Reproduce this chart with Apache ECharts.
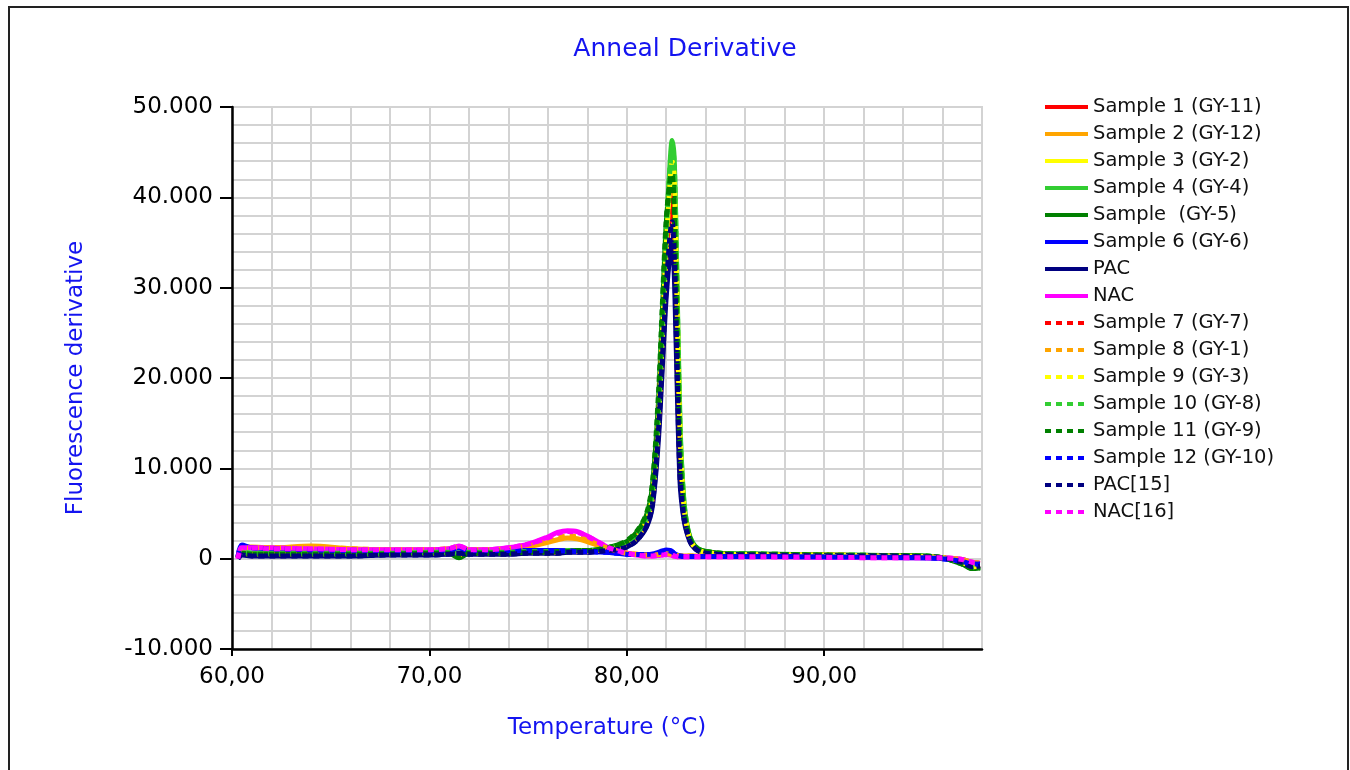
<!DOCTYPE html>
<html>
<head>
<meta charset="utf-8">
<title>Anneal Derivative</title>
<script src="https://cdn.jsdelivr.net/npm/echarts@6/dist/echarts.min.js"></script>
<style>
html, body { margin: 0; padding: 0; background: #fff; }
#chart { width: 1350px; height: 770px; }
</style>
</head>
<body>
<div id="chart"></div>
<script>
// temperature points (°C), denser around the melt peak
const temps = [
    60.3, 60.5, 61, 62, 64, 66, 68, 70, 71, 71.5,
    72, 73, 74, 75, 76, 76.5, 77, 77.5, 78, 78.5,
    79, 79.5, 80, 80.5, 81, 81.3, 81.6, 81.8, 82.0, 82.2,
    82.3, 82.4, 82.5, 82.7, 82.9, 83.1, 83.3, 83.6, 84, 85,
    87, 90, 93, 95, 96, 97, 97.5, 97.9
];

const sample1 = [
    0.1, 0.6, 0.5, 0.5, 0.5, 0.5, 0.5, 0.6, 0.6, 0.3,
    0.6, 0.6, 0.6, 0.7, 0.7, 0.7, 0.8, 0.8, 0.8, 0.9,
    1.0, 1.2, 1.5, 2.3, 4.0, 6.6, 15, 24, 33, 39,
    40, 37, 30, 12, 5.2, 2.8, 1.6, 1.0, 0.7, 0.5,
    0.45, 0.4, 0.3, 0.25, 0.1, -0.4, -0.9, -0.8
];
const sample2 = [
    0.1, 1.3, 1.3, 1.2, 1.4, 1.1, 1.0, 1.0, 1.1, 1.3,
    1.0, 1.0, 1.1, 1.3, 1.8, 2.1, 2.3, 2.2, 1.9, 1.5,
    1.1, 0.8, 0.6, 0.5, 0.4, 0.4, 0.45, 0.5, 0.55, 0.5,
    0.45, 0.4, 0.35, 0.3, 0.3, 0.3, 0.3, 0.3, 0.3, 0.3,
    0.3, 0.25, 0.2, 0.15, 0.1, -0.1, -0.4, -0.5
];
const sample3 = [
    0.1, 0.6, 0.5, 0.5, 0.5, 0.5, 0.5, 0.6, 0.6, 0.5,
    0.6, 0.6, 0.6, 0.7, 0.7, 0.7, 0.8, 0.8, 0.8, 0.9,
    1.0, 1.2, 1.5, 2.4, 4.2, 7.0, 15.5, 25, 35, 43,
    45, 43, 34, 14, 5.8, 3.0, 1.7, 1.0, 0.7, 0.5,
    0.45, 0.4, 0.3, 0.25, 0.1, -0.4, -0.9, -0.8
];
const sample4 = [
    0.1, 0.7, 0.6, 0.6, 0.6, 0.6, 0.6, 0.7, 0.7, 0.6,
    0.7, 0.7, 0.7, 0.8, 0.8, 0.8, 0.9, 0.9, 0.9, 1.0,
    1.2, 1.4, 1.8, 2.8, 4.6, 7.6, 16, 26, 36, 44,
    46.3, 44.5, 36, 15, 6.3, 3.2, 1.9, 1.1, 0.8, 0.55,
    0.5, 0.4, 0.35, 0.3, 0.1, -0.5, -1.0, -0.9
];
const sample5 = [
    0.1, 0.6, 0.5, 0.5, 0.5, 0.5, 0.5, 0.6, 0.6, 0.1,
    0.6, 0.6, 0.6, 0.7, 0.7, 0.8, 0.8, 0.9, 0.9, 1.0,
    1.2, 1.5, 1.9, 2.9, 4.8, 8.0, 17, 27, 37, 42,
    43, 40, 31, 12, 5.5, 3.1, 1.8, 1.1, 0.8, 0.55,
    0.5, 0.4, 0.35, 0.3, 0.1, -0.6, -1.1, -1.0
];
const sample6 = [
    0.2, 1.5, 1.2, 1.1, 1.0, 0.9, 0.9, 0.9, 1.0, 1.2,
    0.9, 0.9, 0.9, 0.9, 0.9, 0.9, 0.85, 0.8, 0.8, 0.75,
    0.7, 0.6, 0.5, 0.45, 0.45, 0.5, 0.7, 0.85, 0.95, 0.9,
    0.8, 0.6, 0.45, 0.3, 0.25, 0.25, 0.25, 0.25, 0.25, 0.25,
    0.25, 0.2, 0.15, 0.1, 0.0, -0.3, -0.6, -0.6
];
const pac = [
    0.0, 0.4, 0.3, 0.3, 0.3, 0.3, 0.4, 0.4, 0.5, 0.6,
    0.5, 0.5, 0.5, 0.6, 0.6, 0.6, 0.7, 0.7, 0.7, 0.8,
    0.9, 1.0, 1.3, 2.0, 3.5, 5.8, 13, 21, 29, 34,
    35, 32, 24, 8.5, 4.3, 2.5, 1.5, 0.9, 0.6, 0.45,
    0.4, 0.3, 0.3, 0.2, 0.1, -0.4, -0.9, -0.8
];
const nac = [
    0.0, 1.3, 1.2, 1.2, 1.1, 1.0, 1.0, 1.0, 1.1, 1.4,
    1.0, 1.0, 1.2, 1.6, 2.4, 2.9, 3.1, 3.0, 2.5, 1.9,
    1.3, 0.9, 0.6, 0.4, 0.3, 0.3, 0.35, 0.4, 0.45, 0.4,
    0.35, 0.3, 0.25, 0.2, 0.2, 0.2, 0.2, 0.2, 0.2, 0.2,
    0.2, 0.15, 0.1, 0.1, 0.1, -0.1, -0.4, -0.5
];
const sample7 = [
    0.1, 0.6, 0.5, 0.5, 0.5, 0.6, 0.5, 0.6, 0.6, 0.4,
    0.6, 0.6, 0.6, 0.7, 0.7, 0.7, 0.8, 0.8, 0.8, 0.9,
    1.0, 1.2, 1.6, 2.4, 4.1, 6.8, 15, 25, 34, 40,
    41, 38.5, 31, 12.5, 5.4, 2.9, 1.7, 1.0, 0.7, 0.5,
    0.45, 0.4, 0.3, 0.25, 0.1, -0.4, -0.9, -0.8
];
const sample8 = [
    0.1, 1.2, 1.2, 1.2, 1.3, 1.1, 1.0, 1.0, 1.1, 1.3,
    1.0, 1.0, 1.1, 1.4, 1.9, 2.3, 2.5, 2.4, 2.0, 1.6,
    1.2, 0.8, 0.6, 0.5, 0.4, 0.4, 0.45, 0.5, 0.55, 0.5,
    0.45, 0.4, 0.35, 0.3, 0.3, 0.3, 0.3, 0.3, 0.3, 0.3,
    0.3, 0.25, 0.2, 0.15, 0.1, -0.1, -0.4, -0.5
];
const sample9 = [
    0.1, 0.6, 0.5, 0.5, 0.5, 0.5, 0.5, 0.6, 0.6, 0.5,
    0.6, 0.6, 0.6, 0.7, 0.7, 0.7, 0.8, 0.8, 0.8, 0.9,
    1.0, 1.2, 1.5, 2.3, 4.1, 6.9, 15, 24.5, 34.5, 42,
    44, 42.5, 34, 14, 5.8, 3.0, 1.7, 1.0, 0.7, 0.5,
    0.45, 0.4, 0.3, 0.25, 0.1, -0.4, -0.9, -0.8
];
const sample10 = [
    0.1, 0.7, 0.6, 0.6, 0.6, 0.6, 0.6, 0.7, 0.7, 0.6,
    0.7, 0.7, 0.7, 0.8, 0.8, 0.8, 0.9, 0.9, 0.9, 1.0,
    1.2, 1.4, 1.8, 2.7, 4.5, 7.4, 16, 26, 36, 43.5,
    45.5, 44, 35.5, 14.5, 6.2, 3.2, 1.9, 1.1, 0.8, 0.55,
    0.5, 0.4, 0.35, 0.3, 0.1, -0.5, -1.0, -0.9
];
const sample11 = [
    0.1, 0.6, 0.5, 0.5, 0.5, 0.5, 0.5, 0.6, 0.6, 0.2,
    0.6, 0.6, 0.6, 0.7, 0.7, 0.8, 0.8, 0.9, 0.9, 1.0,
    1.2, 1.5, 2.0, 3.0, 5.0, 8.4, 18, 28, 37.5, 42,
    42.5, 39, 30, 11.5, 5.3, 3.0, 1.8, 1.1, 0.8, 0.55,
    0.5, 0.4, 0.35, 0.3, 0.1, -0.6, -1.1, -1.0
];
const sample12 = [
    0.2, 1.4, 1.2, 1.1, 1.0, 0.95, 0.9, 0.9, 1.0, 1.2,
    0.9, 0.9, 0.9, 0.9, 0.9, 0.85, 0.85, 0.8, 0.8, 0.75,
    0.7, 0.6, 0.5, 0.45, 0.45, 0.5, 0.65, 0.8, 0.9, 0.85,
    0.75, 0.6, 0.45, 0.3, 0.25, 0.25, 0.25, 0.25, 0.25, 0.25,
    0.25, 0.2, 0.15, 0.1, 0.0, -0.3, -0.6, -0.6
];
const pac15 = [
    0.0, 0.4, 0.3, 0.3, 0.3, 0.3, 0.4, 0.4, 0.5, 0.6,
    0.5, 0.5, 0.5, 0.6, 0.6, 0.6, 0.7, 0.7, 0.7, 0.8,
    0.9, 1.0, 1.3, 2.0, 3.6, 6.0, 14, 22, 30, 36,
    37.3, 34, 26, 9, 4.5, 2.6, 1.5, 0.9, 0.6, 0.45,
    0.4, 0.3, 0.3, 0.2, 0.1, -0.4, -0.9, -0.8
];
const nac16 = [
    0.0, 1.2, 1.2, 1.1, 1.1, 1.0, 1.0, 1.0, 1.1, 1.4,
    1.0, 1.0, 1.2, 1.6, 2.3, 2.8, 3.0, 2.9, 2.5, 1.9,
    1.3, 0.9, 0.6, 0.4, 0.3, 0.3, 0.35, 0.4, 0.45, 0.4,
    0.35, 0.3, 0.25, 0.2, 0.2, 0.2, 0.2, 0.2, 0.2, 0.2,
    0.2, 0.15, 0.1, 0.1, 0.1, -0.1, -0.4, -0.5
];

const seriesNames = [
    'Sample 1 (GY-11)', 'Sample 2 (GY-12)', 'Sample 3 (GY-2)', 'Sample 4 (GY-4)',
    'Sample  (GY-5)', 'Sample 6 (GY-6)', 'PAC', 'NAC',
    'Sample 7 (GY-7)', 'Sample 8 (GY-1)', 'Sample 9 (GY-3)', 'Sample 10 (GY-8)',
    'Sample 11 (GY-9)', 'Sample 12 (GY-10)', 'PAC[15]', 'NAC[16]'
];
const seriesValues = [
    sample1, sample2, sample3, sample4, sample5, sample6, pac, nac,
    sample7, sample8, sample9, sample10, sample11, sample12, pac15, nac16
];
const palette = ['#ff0000', '#ffa500', '#ffff00', '#32cd32', '#008000', '#0000ff', '#000080', '#ff00ff'];

const xTicks = [60, 70, 80, 90];
const blue = '#1414f0';
const font = 'DejaVu Sans';

let option = {
    animation: false,
    backgroundColor: '#fff',
    graphic: [{
        type: 'rect',
        shape: { x: 9, y: 7, width: 1339, height: 800 },
        style: { fill: 'none', stroke: '#222', lineWidth: 2 },
        silent: true
    }],
    title: {
        text: 'Anneal Derivative',
        left: 680,
        top: 32,
        textAlign: 'center',
        textStyle: { color: blue, fontSize: 25, fontWeight: 'normal', fontFamily: font }
    },
    legend: {
        orient: 'vertical',
        left: 1038,
        top: 92,
        itemWidth: 43,
        itemHeight: 20,
        itemGap: 7,
        data: seriesNames,
        // hide the marker circle, keep only the line sample
        itemStyle: { color: 'rgba(0,0,0,0)', borderWidth: 0, opacity: 0 },
        lineStyle: { width: 4 },
        textStyle: { color: '#111', fontSize: 19.5, fontFamily: font, lineHeight: 20 }
    },
    grid: {
        left: 232,
        right: 368,
        top: 107,
        bottom: 121,
        show: true,
        borderColor: '#d3d3d3',
        borderWidth: 2
    },
    xAxis: {
        type: 'value',
        min: 60,
        max: 98,
        interval: 10,
        name: 'Temperature (°C)',
        nameLocation: 'middle',
        nameGap: 68,
        nameTextStyle: { color: blue, fontSize: 23, fontFamily: font },
        axisLine: { onZero: false, lineStyle: { color: '#000', width: 2.5 } },
        axisTick: { show: true, length: 7, customValues: xTicks, lineStyle: { color: '#000', width: 2 } },
        axisLabel: {
            customValues: xTicks,
            margin: 17,
            color: '#000',
            fontSize: 23,
            fontFamily: font,
            formatter: v => v.toFixed(2).replace('.', ',')
        },
        splitLine: { show: true, lineStyle: { color: '#d3d3d3', width: 2 } },
        minorTick: { show: false, splitNumber: 5 },
        minorSplitLine: { show: true, lineStyle: { color: '#d3d3d3', width: 2 } }
    },
    yAxis: {
        type: 'value',
        min: -10,
        max: 50,
        interval: 10,
        name: 'Fluorescence derivative',
        nameLocation: 'middle',
        nameGap: 144,
        nameTextStyle: { color: blue, fontSize: 23, fontFamily: font },
        axisLine: { show: true, lineStyle: { color: '#000', width: 2.5 } },
        axisTick: { show: true, length: 12, lineStyle: { color: '#000', width: 2 } },
        axisLabel: {
            margin: 19,
            color: '#000',
            fontSize: 23,
            fontFamily: font,
            formatter: v => v === 0 ? '0' : v.toFixed(3)
        },
        splitLine: { show: true, lineStyle: { color: '#d3d3d3', width: 2 } },
        minorTick: { show: false, splitNumber: 5 },
        minorSplitLine: { show: true, lineStyle: { color: '#d3d3d3', width: 2 } }
    },
    series: seriesNames.map((name, i) => {
        return {
            name: name,
            type: 'line',
            symbol: 'none',
            smooth: 0.3,
            color: palette[i % 8],
            lineStyle: {
                width: 5,
                color: palette[i % 8],
                type: i < 8 ? 'solid' : [6, 5]
            },
            data: temps.map((t, k) => [t, seriesValues[i][k]])
        };
    })
};

echarts.init(document.getElementById('chart')).setOption(option);
</script>
</body>
</html>
